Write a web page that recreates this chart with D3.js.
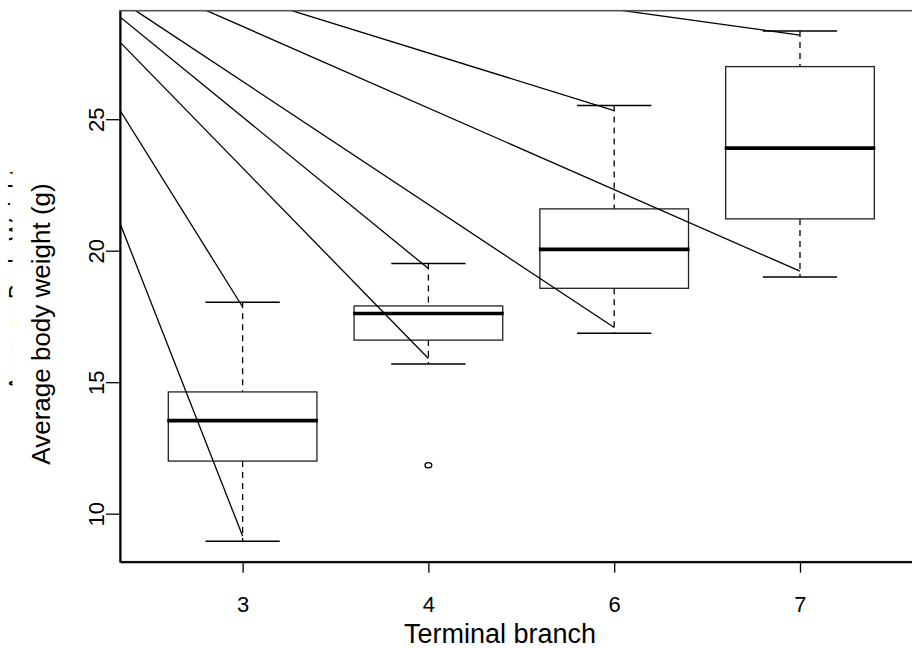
<!DOCTYPE html>
<html>
<head>
<meta charset="utf-8">
<script src="https://cdn.jsdelivr.net/npm/d3@7"></script>
<style>
  body { margin: 0; background: #fff; }
  text { font-family: "Liberation Sans", Arial, sans-serif; fill: #000; }
</style>
</head>
<body>
<div id="chart"></div>
<script>
// box summaries per terminal branch
var branches = ["3", "4", "6", "7"];
var whiskerLow = [8.95, 15.69, 16.86, 19.00];
var q1 = [12.00, 16.60, 18.57, 21.21];
var medians = [13.54, 17.61, 20.05, 23.90];
var q3 = [14.63, 17.90, 21.59, 27.00];
var whiskerHigh = [18.04, 19.51, 25.52, 28.35];
var outlierBranch = [2];
var outlierValue = [11.84];
var yTicks = [10, 15, 20, 25];

// overlaid segments (start at the plot edge, end near a whisker)
var segFromX = [0.34, 0.34, 0.34, 0.34, 0.424, 1.264, 0.806, 3.047];
var segFromY = [21.04, 25.34, 27.93, 28.89, 29.13, 29.13, 29.13, 29.13];
var segToX = [1, 1, 2, 2, 3, 3, 4, 4];
var segToY = [9.15, 17.86, 15.90, 19.32, 17.08, 25.33, 19.22, 28.20];

var width = 912, height = 648;
var plotLeft = 120, plotRight = 922.6, plotTop = 10.7, plotBottom = 561.7;

var svg = d3.select("#chart").append("svg")
    .attr("width", width)
    .attr("height", height);

var dataMin = d3.min(whiskerLow), dataMax = d3.max(whiskerHigh);
var pad = (dataMax - dataMin) * 0.04;

var x = d3.scaleLinear()
    .domain([0.5 - 0.04 * branches.length, branches.length + 0.5 + 0.04 * branches.length])
    .range([plotLeft, plotRight]);
var y = d3.scaleLinear()
    .domain([dataMin - pad, dataMax + pad])
    .range([plotBottom, plotTop]);

var unit = x(1) - x(0);
var boxHalf = unit * 0.4, capHalf = unit * 0.2;

svg.append("clipPath").attr("id", "plotclip")
    .append("rect")
    .attr("x", plotLeft).attr("y", plotTop)
    .attr("width", plotRight - plotLeft).attr("height", plotBottom - plotTop);

var boxes = svg.append("g");
branches.forEach(function(b, i) {
    var cx = x(i + 1);
    // whiskers
    boxes.append("line")
        .attr("x1", cx).attr("x2", cx)
        .attr("y1", y(whiskerHigh[i])).attr("y2", y(q3[i]))
        .attr("stroke", "#000").attr("stroke-width", 1.3)
        .attr("stroke-dasharray", "6,5");
    boxes.append("line")
        .attr("x1", cx).attr("x2", cx)
        .attr("y1", y(q1[i])).attr("y2", y(whiskerLow[i]))
        .attr("stroke", "#000").attr("stroke-width", 1.3)
        .attr("stroke-dasharray", "6,5");
    // caps
    [whiskerHigh[i], whiskerLow[i]].forEach(function(v) {
        boxes.append("line")
            .attr("x1", cx - capHalf).attr("x2", cx + capHalf)
            .attr("y1", y(v)).attr("y2", y(v))
            .attr("stroke", "#000").attr("stroke-width", 1.5);
    });
    // box
    boxes.append("rect")
        .attr("x", cx - boxHalf).attr("y", y(q3[i]))
        .attr("width", boxHalf * 2).attr("height", y(q1[i]) - y(q3[i]))
        .attr("fill", "none").attr("stroke", "#222").attr("stroke-width", 1.3);
    // median
    boxes.append("line")
        .attr("x1", cx - boxHalf - 1).attr("x2", cx + boxHalf + 1)
        .attr("y1", y(medians[i])).attr("y2", y(medians[i]))
        .attr("stroke", "#000").attr("stroke-width", 3.6);
});

outlierBranch.forEach(function(b, j) {
    boxes.append("ellipse")
        .attr("cx", x(b)).attr("cy", y(outlierValue[j]))
        .attr("rx", 3.4).attr("ry", 2.6)
        .attr("fill", "none").attr("stroke", "#000").attr("stroke-width", 1.3);
});

// segments, clipped to plot region
svg.append("g").attr("clip-path", "url(#plotclip)")
    .selectAll("line")
    .data(segFromX.map(function(d, i) { return i; }))
    .enter()
    .append("line")
    .attr("x1", function(i) { return x(segFromX[i]); })
    .attr("y1", function(i) { return y(segFromY[i]); })
    .attr("x2", function(i) { return x(segToX[i]); })
    .attr("y2", function(i) { return y(segToY[i]); })
    .attr("stroke", "#000")
    .attr("stroke-width", 1.3);

// frame
svg.append("rect")
    .attr("x", plotLeft).attr("y", plotTop)
    .attr("width", plotRight - plotLeft).attr("height", plotBottom - plotTop)
    .attr("fill", "none").attr("stroke", "#555").attr("stroke-width", 1.6);

// y axis
var yAxis = svg.append("g")
    .attr("transform", "translate(" + plotLeft + ",0)")
    .call(d3.axisLeft(y).tickValues(yTicks).tickSize(14).tickSizeOuter(0)
        .tickFormat(d3.format("d")));
yAxis.select(".domain").attr("stroke", "#000").attr("stroke-width", 2);
yAxis.selectAll(".tick line").attr("stroke", "#000").attr("stroke-width", 1.3);
yAxis.selectAll(".tick text")
    .attr("transform", "rotate(-90)")
    .attr("x", 0).attr("y", -16).attr("dy", 0)
    .attr("text-anchor", "middle")
    .style("font-size", "22px")
    .style("font-family", "'Liberation Sans', Arial, sans-serif");

// x axis
var xAxis = svg.append("g")
    .attr("transform", "translate(0," + plotBottom + ")")
    .call(d3.axisBottom(x).tickValues([1, 2, 3, 4]).tickSize(11).tickSizeOuter(0)
        .tickFormat(function(d) { return branches[d - 1]; }));
xAxis.select(".domain").attr("stroke", "#000").attr("stroke-width", 2);
xAxis.selectAll(".tick line").attr("stroke", "#000").attr("stroke-width", 1.3);
xAxis.selectAll(".tick text")
    .attr("y", 50).attr("dy", 0)
    .style("font-size", "22px")
    .style("font-family", "'Liberation Sans', Arial, sans-serif");

// axis titles
svg.append("text")
    .attr("x", 500).attr("y", 643)
    .attr("text-anchor", "middle")
    .style("font-size", "27px")
    .text("Terminal branch");

svg.append("text")
    .attr("transform", "translate(50,324) rotate(-90)")
    .attr("text-anchor", "middle")
    .style("font-size", "26px")
    .text("Average body weight (g)");

// older label, only the tops of its glyphs show at the left edge
svg.append("clipPath").attr("id", "edgeclip")
    .append("rect").attr("x", 0).attr("y", 0).attr("width", 12.5).attr("height", height);
svg.append("g")
    .attr("clip-path", "url(#edgeclip)")
    .append("text")
    .attr("transform", "translate(26,391) rotate(-90)")
    .attr("text-anchor", "start")
    .style("font-size", "23px")
    .text("Average Body Weight");
</script>
</body>
</html>
